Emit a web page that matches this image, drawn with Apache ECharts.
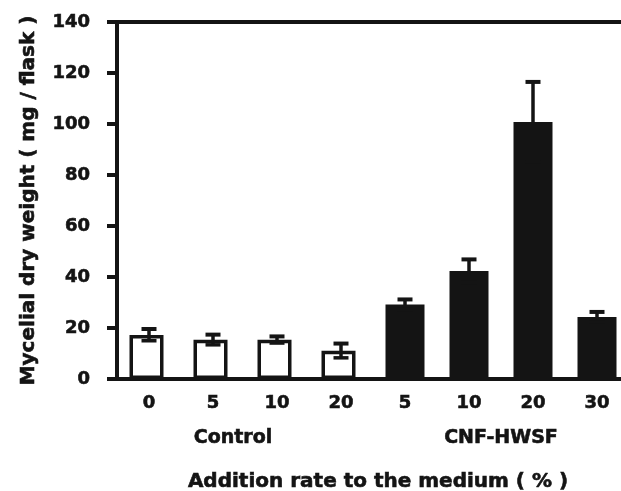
<!DOCTYPE html>
<html>
<head>
<meta charset="utf-8">
<script src="https://cdn.jsdelivr.net/npm/echarts@6/dist/echarts.min.js"></script>
<style>
html,body{margin:0;padding:0;background:#fff;}
#chart{width:621px;height:491px;}
</style>
</head>
<body>
<div id="chart"></div>
<script>
// ---- data ----
const categories = ['0', '5', '10', '20', '5', '10', '20', '30'];
const groups = ['Control', 'CNF-HWSF'];
const controlMean = [17.3, 15.4, 15.4, 11.1];
const controlSD = [2.3, 2.0, 1.3, 2.8];
const cnfMean = [29.2, 42.4, 100.8, 24.3];
const cnfSD = [2.0, 4.5, 15.7, 2.0];
const yMin = 0, yMax = 140, yStep = 20;

const INK = '#141414';
const FONT = 'DejaVu Sans';
const BOLDER = { textBorderColor: INK, textBorderWidth: 0.6 };

const controlBars = categories.map((c, i) => i < controlMean.length ? controlMean[i] : null);
const cnfBars = categories.map((c, i) => i >= controlMean.length ? cnfMean[i - controlMean.length] : null);
const errData = [];
controlMean.forEach((m, i) => errData.push([i, m, controlSD[i]]));
cnfMean.forEach((m, i) => errData.push([i + controlMean.length, m, cnfSD[i]]));

function renderErr(params, api) {
  const x = api.value(0), m = api.value(1), sd = api.value(2);
  const t = api.coord([x, m + sd]);
  const b = api.coord([x, m - sd]);
  const h = 7.5;
  return {
    type: 'group',
    children: [
      { type: 'line', shape: { x1: t[0], y1: t[1], x2: b[0], y2: b[1] }, style: { stroke: INK, lineWidth: 3.5 } },
      { type: 'line', shape: { x1: t[0] - h, y1: t[1], x2: t[0] + h, y2: t[1] }, style: { stroke: INK, lineWidth: 4 } },
      { type: 'line', shape: { x1: b[0] - h, y1: b[1], x2: b[0] + h, y2: b[1] }, style: { stroke: INK, lineWidth: 3.5 } }
    ]
  };
}

const chart = echarts.init(document.getElementById('chart'), null, { renderer: 'canvas' });
chart.setOption({
  backgroundColor: '#fff',
  animation: false,
  grid: { left: 117, top: 22, width: 512, bottom: 112, containLabel: false, outerBoundsMode: 'none' },
  xAxis: [
    {
      type: 'category', data: categories, position: 'bottom',
      axisLine: { show: true, lineStyle: { color: INK, width: 4 } },
      axisTick: { show: false },
      axisLabel: Object.assign({ color: INK, fontFamily: FONT, fontWeight: 'bold', fontSize: 18, margin: 15 }, BOLDER)
    },
    {
      type: 'category', data: groups, position: 'bottom', offset: 36,
      axisLine: { show: false }, axisTick: { show: false },
      axisLabel: Object.assign({
        color: INK, fontFamily: FONT, fontWeight: 'bold', fontSize: 19, margin: 14,
        formatter: v => v === groups[0] ? '{a|' + v + '}' : v,
        rich: { a: Object.assign({ color: INK, fontFamily: FONT, fontWeight: 'bold', fontSize: 19, padding: [0, 24, 0, 0] }, BOLDER) }
      }, BOLDER),
      name: 'Addition rate to the medium ( % )', nameLocation: 'middle', nameGap: 57,
      nameTextStyle: Object.assign({ color: INK, fontFamily: FONT, fontWeight: 'bold', fontSize: 20, padding: [0, 0, 0, 10] }, BOLDER)
    },
    {
      type: 'category', data: groups, position: 'top',
      axisLine: { show: true, lineStyle: { color: INK, width: 4 } },
      axisTick: { show: false }, axisLabel: { show: false }
    }
  ],
  yAxis: {
    type: 'value', min: yMin, max: yMax, interval: yStep,
    axisLine: { show: true, lineStyle: { color: INK, width: 4 } },
    axisTick: { show: true, inside: false, length: 10, lineStyle: { color: INK, width: 4 } },
    splitLine: { show: false },
    axisLabel: Object.assign({ color: INK, fontFamily: FONT, fontWeight: 'bold', fontSize: 18, margin: 27 }, BOLDER),
    name: 'Mycelial dry weight ( mg / flask )', nameLocation: 'middle', nameGap: 78, nameRotate: 90,
    nameTextStyle: Object.assign({ color: INK, fontFamily: FONT, fontWeight: 'bold', fontSize: 20 }, BOLDER)
  },
  series: [
    {
      type: 'bar', data: controlBars, barWidth: 34, barGap: '-100%', xAxisIndex: 0,
      itemStyle: { color: '#fff', borderColor: INK, borderWidth: 3.5 }
    },
    {
      type: 'bar', data: cnfBars, barWidth: 39, barGap: '-100%', xAxisIndex: 0,
      itemStyle: { color: INK }
    },
    {
      type: 'custom', data: errData, xAxisIndex: 0, renderItem: renderErr, z: 5,
      encode: { x: 0, y: 1 }
    }
  ]
});
</script>
</body>
</html>
